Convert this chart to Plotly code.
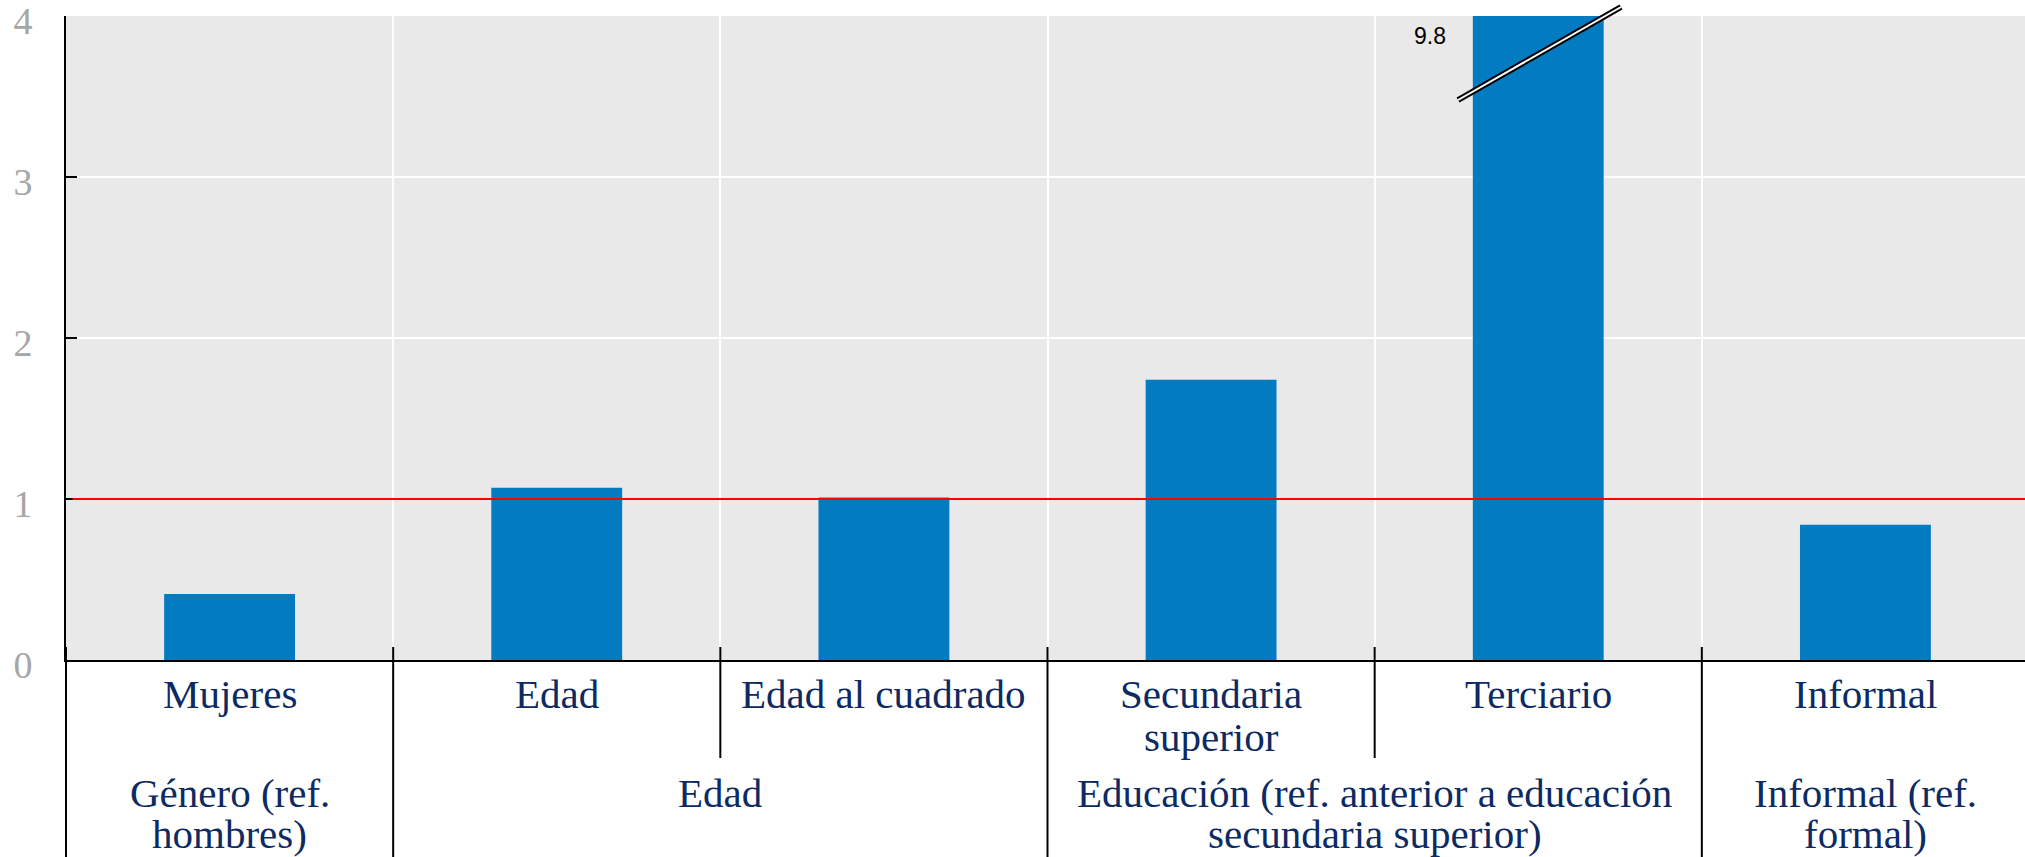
import plotly.graph_objects as go

# Data
categories = ["Mujeres", "Edad", "Edad al cuadrado", "Secundaria<br>superior", "Terciario", "Informal"]
values = [0.41, 1.07, 1.01, 1.74, 9.8, 0.84]
groups = [
    "Género (ref.<br>hombres)",
    "Edad",
    "Educación (ref. anterior a educación<br>secundaria superior)",
    "Informal (ref.<br>formal)",
]
group_spans = [(0, 0), (1, 2), (3, 4), (5, 5)]
reference_level = 1
y_ticks = [0, 1, 2, 3, 4]
y_max = 4
break_label = "9.8"

BAR_COLOR = "#037BC1"
TEXT_COLOR = "#0d2a63"
SERIF = "Georgia, 'Liberation Serif', serif"

# plot area runs slightly past the right edge of the window, as in the original
W, H = 2029, 857
M_L, M_T, M_B = 66, 16, 197
plot_h = H - M_T - M_B


def py(pixel_y):
    """Pixel row (from top of figure) to paper y."""
    return (H - M_B - pixel_y) / plot_h


x_idx = list(range(len(categories)))
fig = go.Figure()

fig.add_trace(
    go.Bar(
        x=x_idx,
        y=values,
        marker_color=BAR_COLOR,
        marker_line_width=0,
        width=0.4,
        hoverinfo="skip",
    )
)

# Reference line at 1
fig.add_shape(
    type="line", xref="x", yref="y",
    x0=-0.48, x1=len(categories) - 0.5, y0=reference_level, y1=reference_level,
    line=dict(color="#ff0000", width=2),
)

# Axis break marks on the truncated bar
brk = values.index(max(values))
for w, c in [(6, "black"), (2, "white")]:
    fig.add_shape(
        type="line", xref="x", yref="paper",
        x0=brk - 0.245, x1=brk + 0.253, y0=py(100), y1=py(7),
        line=dict(color=c, width=w),
    )
fig.add_annotation(
    x=brk - 0.33, y=py(36), xref="x", yref="paper",
    text=break_label, showarrow=False, yanchor="middle",
    font=dict(family="'Liberation Sans', Arial, sans-serif", size=23, color="black"),
)

# Category labels (row 1)
row1 = [694, 737]
for i, lab in enumerate(categories):
    for k, line in enumerate(lab.split("<br>")):
        fig.add_annotation(
            x=i, y=py(row1[k]), xref="x", yref="paper", text=line,
            showarrow=False, yanchor="middle",
            font=dict(family=SERIF, size=41, color=TEXT_COLOR),
        )

# Group labels (row 2)
row2 = [793, 834]
for lab, (a, b) in zip(groups, group_spans):
    for k, line in enumerate(lab.split("<br>")):
        fig.add_annotation(
            x=(a + b) / 2, y=py(row2[k]), xref="x", yref="paper", text=line,
            showarrow=False, yanchor="middle",
            font=dict(family=SERIF, size=41, color=TEXT_COLOR),
        )

# Separators below the axis
n = len(categories)
group_edges = {a for a, b in group_spans} | {n}
for i in range(n + 1):
    bottom = H if i in group_edges else 758
    fig.add_shape(
        type="line", xref="paper", yref="paper",
        x0=i / n, x1=i / n, y0=py(647), y1=py(bottom),
        line=dict(color="black", width=2),
    )

fig.update_layout(
    width=W,
    height=H,
    margin=dict(l=M_L, r=0, t=M_T, b=M_B, autoexpand=False),
    plot_bgcolor="#e9e9e9",
    paper_bgcolor="white",
    showlegend=False,
    xaxis=dict(
        range=[-0.5, n - 0.5],
        showticklabels=False,
        tickvals=[i - 0.5 for i in range(n + 1)],
        ticks="",
        showgrid=True,
        gridcolor="white",
        gridwidth=2,
        showline=True,
        linecolor="black",
        linewidth=2,
        zeroline=False,
        automargin=False,
    ),
    yaxis=dict(
        range=[0, y_max],
        tickvals=y_ticks,
        ticks="inside",
        ticklen=11,
        tickwidth=2,
        tickcolor="black",
        showline=True,
        linecolor="black",
        linewidth=2,
        showgrid=True,
        gridcolor="white",
        gridwidth=2,
        zeroline=False,
        automargin=False,
        ticklabeloverflow="allow",
        ticklabelstandoff=24,
        ticklabelshift=5,
        tickfont=dict(family=SERIF, size=38, color="#a6a6a6"),
    ),
)

fig.write_html(
    "out.html",
    config={"displayModeBar": False},
    post_script="document.body.style.margin='0';document.body.style.overflow='hidden';",
)
